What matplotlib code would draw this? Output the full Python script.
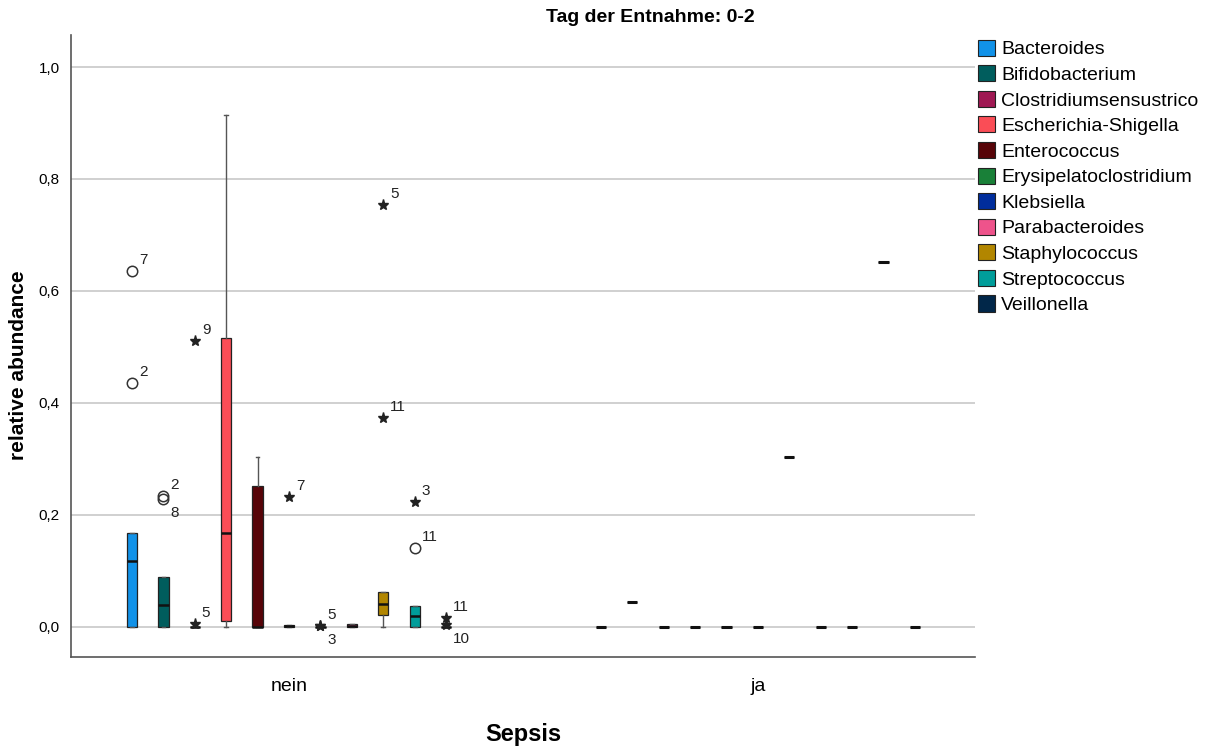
import matplotlib
matplotlib.use("Agg")
import matplotlib.pyplot as plt
from matplotlib.patches import Patch
from matplotlib.ticker import FuncFormatter

plt.rcParams['font.family'] = ['Liberation Sans', 'DejaVu Sans']

# Gattungen (Legende, Reihenfolge innerhalb jeder Gruppe)
genera = ['Bacteroides', 'Bifidobacterium', 'Clostridiumsensustrico', 'Escherichia-Shigella',
          'Enterococcus', 'Erysipelatoclostridium', 'Klebsiella', 'Parabacteroides',
          'Staphylococcus', 'Streptococcus', 'Veillonella']
colors = ['#1192e8', '#005d5d', '#9f1853', '#fa4d56', '#570408', '#198038',
          '#002d9c', '#ee538b', '#b28600', '#009d9a', '#012749']
groups = ['nein', 'ja']

# Sepsis = nein: Boxplot-Kennwerte
nein_whislo = [0, 0, 0, 0, 0, 0, 0, 0, 0, 0, 0]
nein_q1 = [0, 0, 0, 0.011, 0, 0, 0, 0, 0.021, 0, 0]
nein_med = [0.117, 0.039, 0, 0.168, 0, 0.001, 0, 0.002, 0.040, 0.019, 0]
nein_q3 = [0.167, 0.089, 0, 0.516, 0.251, 0.004, 0, 0.005, 0.0625, 0.0375, 0]
nein_whishi = [0.167, 0.089, 0, 0.914, 0.303, 0.004, 0, 0.005, 0.0625, 0.0375, 0]

# Sepsis = ja: nur ein Wert je Gattung
ja_value = [0, 0.045, 0, 0, 0, 0, 0.304, 0, 0, 0.652, 0]

# Ausreisser (nein)
out_genus = [0, 0, 1, 1, 2, 2, 5, 6, 6, 8, 8, 9, 9, 10, 10]
out_value = [0.636, 0.436, 0.233, 0.228, 0.511, 0.005, 0.231, 0.002, 0.002,
             0.754, 0.373, 0.223, 0.141, 0.016, 0.003]
out_case = ['7', '2', '2', '8', '9', '5', '7', '5', '3', '5', '11', '3', '11', '11', '10']
out_kind = ['o', 'o', 'o', 'o', '*', '*', '*', '*', '*', '*', '*', '*', 'o', '*', '*']
# Fallnummer unter statt ueber dem Symbol
out_below = [False, False, False, True, False, False, False, False, True,
             False, False, False, False, False, True]

fig = plt.figure(figsize=(12.16, 7.47), dpi=100)
ax = fig.add_axes([0.0584, 0.1205, 0.7434, 0.8325])

step = 0.067
box_w = 0.022
n = len(genera)


def xpos(g, j):
    return g + (j - (n - 1) / 2) * step


# nein-Boxen
for j in range(n):
    st = dict(med=nein_med[j], q1=nein_q1[j], q3=nein_q3[j],
              whislo=nein_whislo[j], whishi=nein_whishi[j], fliers=[])
    ax.bxp([st], positions=[xpos(0, j)], widths=box_w, patch_artist=True,
           showfliers=False, capwidths=0.008,
           boxprops=dict(facecolor=colors[j], edgecolor='#222222', linewidth=0.9),
           medianprops=dict(color='#111111', linewidth=1.8),
           whiskerprops=dict(color='#555555', linewidth=1.0),
           capprops=dict(color='#555555', linewidth=1.0))

# ja: Einzelwerte
for j in range(n):
    v = ja_value[j]
    st = dict(med=v, q1=v, q3=v, whislo=v, whishi=v, fliers=[])
    ax.bxp([st], positions=[xpos(1, j)], widths=box_w, patch_artist=True,
           showfliers=False, showcaps=False,
           boxprops=dict(facecolor=colors[j], edgecolor='#111111', linewidth=0.5),
           medianprops=dict(color='#111111', linewidth=2.2),
           whiskerprops=dict(linewidth=0))

# Ausreisser mit Fallnummern
for g, v, c, k, b in zip(out_genus, out_value, out_case, out_kind, out_below):
    x = xpos(0, g)
    if k == 'o':
        ax.plot(x, v, 'o', mfc='none', mec='#333333', ms=7.5, mew=1.1, zorder=5)
    else:
        ax.plot(x, v, '*', color='#222222', ms=8, zorder=5)
    dy = -14 if b else 11
    ax.annotate(c, (x, v), xytext=(7, dy), textcoords='offset pixels',
                fontsize=11, color='#222222', va='center', ha='left')

ax.set_xlim(-0.465, 1.463)
ax.set_ylim(-0.054, 1.057)
ax.set_yticks([0, 0.2, 0.4, 0.6, 0.8, 1.0])
ax.yaxis.set_major_formatter(FuncFormatter(lambda v, p: f'{v:.1f}'.replace('.', ',')))
ax.set_xticks([0, 1])
ax.set_xticklabels(groups, fontsize=14)
ax.tick_params(axis='x', length=0, pad=15)
ax.tick_params(axis='y', length=0, labelsize=11, pad=8)
ax.grid(axis='y', color='#c8c8c8', linewidth=1.2)
ax.set_axisbelow(True)
for s in ['top', 'right']:
    ax.spines[s].set_visible(False)
for s in ['left', 'bottom']:
    ax.spines[s].set_color('#555555')
    ax.spines[s].set_linewidth(1.2)

ax.set_ylabel('relative abundance', fontsize=15, fontweight='bold')
ax.yaxis.set_label_coords(-0.048, 0.469)
ax.set_xlabel('Sepsis', fontsize=17, fontweight='bold', labelpad=20)
fig.text(0.5345, 0.976, 'Tag der Entnahme: 0-2', fontsize=14, fontweight='bold',
         ha='center', va='center')

handles = [Patch(facecolor=c, edgecolor='#222222', linewidth=0.8) for c in colors]
fig.legend(handles, genera, loc='upper left', bbox_to_anchor=(0.804, 0.947),
           frameon=False, fontsize=14, handlelength=0.9, handleheight=0.9,
           handletextpad=0.3, labelspacing=0.35, borderaxespad=0, borderpad=0)

fig.savefig('out.png', dpi=100)
